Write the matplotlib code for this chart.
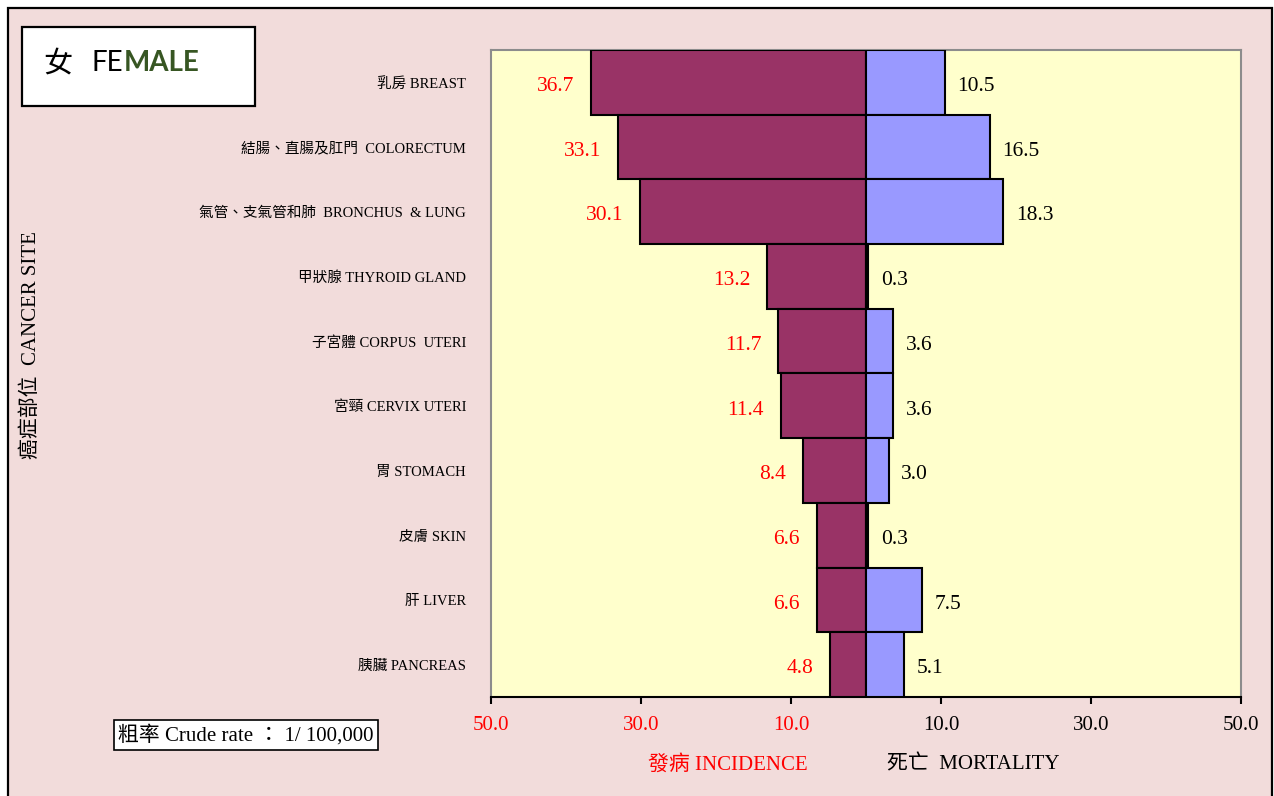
import matplotlib
matplotlib.use("Agg")
import matplotlib.pyplot as plt
from matplotlib.patches import Rectangle

SERIF = ['Liberation Serif', 'Noto Sans CJK TC', 'DejaVu Sans']
plt.rcParams['font.family'] = SERIF

categories = ["乳房 BREAST", "結腸、直腸及肛門  COLORECTUM", "氣管、支氣管和肺  BRONCHUS  & LUNG",
              "甲狀腺 THYROID GLAND", "子宮體 CORPUS  UTERI", "宮頸 CERVIX UTERI",
              "胃 STOMACH", "皮膚 SKIN", "肝 LIVER", "胰臟 PANCREAS"]
incidence = [36.7, 33.1, 30.1, 13.2, 11.7, 11.4, 8.4, 6.6, 6.6, 4.8]
mortality = [10.5, 16.5, 18.3, 0.3, 3.6, 3.6, 3.0, 0.3, 7.5, 5.1]
tick_values = [-50, -30, -10, 10, 30, 50]
tick_labels = ["50.0", "30.0", "10.0", "10.0", "30.0", "50.0"]

W, H = 1274, 796
fig = plt.figure(figsize=(W / 100, H / 100), dpi=100)
fig.patch.set_facecolor('white')
bg = Rectangle((8 / W, -0.02), 1264 / W, 1 - 8 / H + 0.02,
               transform=fig.transFigure, facecolor='#F2DCDB',
               edgecolor='black', lw=1.6, zorder=-10)
fig.patches.append(bg)

ax = fig.add_axes([491 / W, 1 - 697 / H, 750 / W, 647 / H])
ax.set_zorder(1)
ax.set_facecolor('#FFFFCC')
y = list(range(len(categories)))
neg = [-v for v in incidence]
ax.barh(y, neg, height=1.0, color='#993366', edgecolor='black', lw=1.5, zorder=3)
ax.barh(y, mortality, height=1.0, color='#9999FF', edgecolor='black', lw=1.5, zorder=3)
ax.set_xlim(-50, 50)
ax.set_ylim(len(categories) - 0.5, -0.5)

for i, (a, b) in enumerate(zip(incidence, mortality)):
    ax.annotate(f"{a:.1f}", (-a, i), xytext=(-12, -3), textcoords='offset points',
                ha='right', va='center', color='#FF0000', fontsize=15.5, family=SERIF)
    ax.annotate(f"{b:.1f}", (b, i), xytext=(9, -3), textcoords='offset points',
                ha='left', va='center', color='black', fontsize=15.5, family=SERIF)

ax.set_yticks(y)
ax.set_yticklabels(categories, fontsize=10.5)
ax.tick_params(axis='y', length=0, pad=18)
ax.set_xticks(tick_values)
ax.set_xticklabels(tick_labels, fontsize=15)
for lbl, v in zip(ax.get_xticklabels(), tick_values):
    lbl.set_color('#FF0000' if v < 0 else 'black')
ax.tick_params(axis='x', length=5, width=1.5, direction='out', pad=9)
for s in ['top', 'left', 'right']:
    ax.spines[s].set_color('#8C8C8C')
    ax.spines[s].set_linewidth(1.5)
ax.spines['bottom'].set_color('black')
ax.spines['bottom'].set_linewidth(1.5)

# Axis titles
fig.text(728 / W, 1 - 765 / H, "發病 INCIDENCE", color='#FF0000', fontsize=15,
         ha='center', va='center', family=SERIF)
fig.text(973 / W, 1 - 765 / H, "死亡  MORTALITY", color='black', fontsize=15,
         ha='center', va='center', family=SERIF)
fig.text(31 / W, 1 - 345 / H, "癌症部位  CANCER SITE", color='black', fontsize=15,
         ha='center', va='center', rotation=90, family=SERIF)

# Crude rate box
fig.text(246 / W, 1 - 735 / H, "粗率 Crude rate ： 1/ 100,000", fontsize=15,
         ha='center', va='center', family=SERIF,
         bbox=dict(boxstyle='square,pad=0.2', facecolor='white', edgecolor='black', lw=1.2))

# Title box
fig.patches.append(Rectangle((22 / W, 1 - 106 / H), 233 / W, 79 / H,
                             transform=fig.transFigure, facecolor='white',
                             edgecolor='black', lw=1.6, zorder=1))
fig.text(43 / W, 1 - 64 / H, "女", fontsize=21, ha='left', va='center',
         family=['Noto Sans CJK TC'], color='black', zorder=2)
t_fe = fig.text(92 / W, 1 - 63 / H, "FE", fontsize=20, ha='left', va='center',
                family=['Lato', 'DejaVu Sans'], color='black', zorder=2)
fig.canvas.draw()
bb = t_fe.get_window_extent()
fig.text(bb.x1 / W, 1 - 63 / H, "MALE", fontsize=20, ha='left', va='center',
         family=['Lato', 'DejaVu Sans'], fontweight='bold', color='#375623', zorder=2)

fig.savefig("out.png", dpi=100, facecolor=fig.get_facecolor())
